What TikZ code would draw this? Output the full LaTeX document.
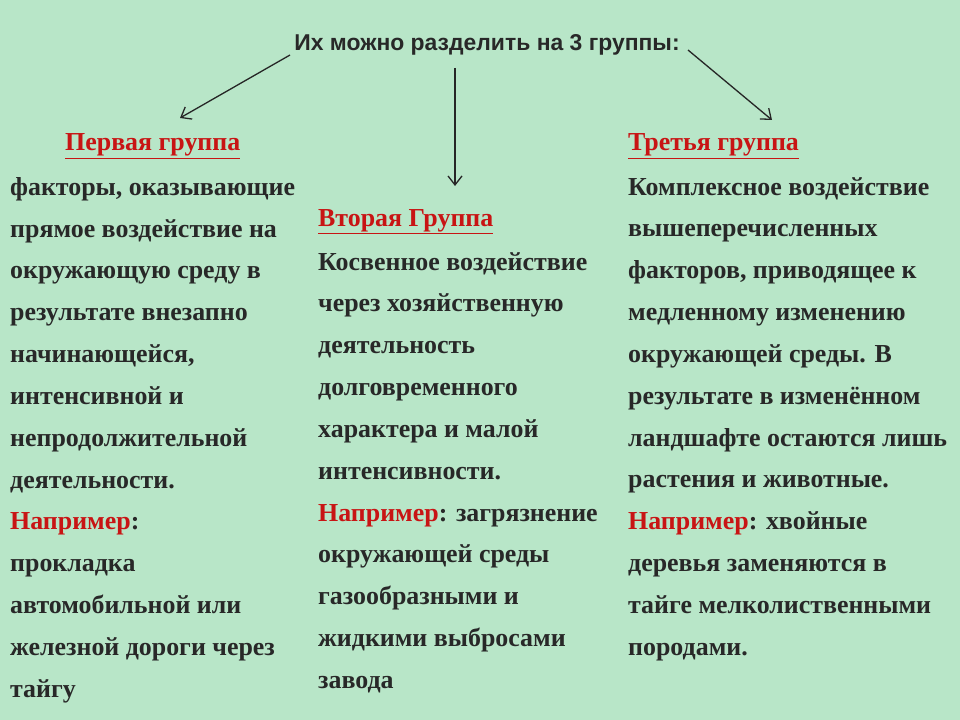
\documentclass[tikz,border=0pt]{standalone}
\usepackage{fontspec}
\usetikzlibrary{arrows.meta}
\setmainfont{Liberation Serif}
\setsansfont{Liberation Sans}
\definecolor{bgreen}{RGB}{184,230,200}
\definecolor{hred}{RGB}{200,20,20}
\definecolor{tgray}{RGB}{40,40,40}
\newcommand{\redw}[1]{\textcolor{hred}{#1}}
\begin{document}
\begin{tikzpicture}[x=1bp,y=-1bp,>={Straight Barb[length=9bp,width=14bp]},
  head/.style={anchor=base west,inner sep=0pt,text=hred,font=\fontsize{26}{42}\selectfont\bfseries},
  body/.style={anchor=north west,inner sep=0pt,align=left,text=tgray,font=\fontsize{26}{42}\selectfont\bfseries},
  arr/.style={->,line width=1.3bp,black!85}]
%%
\fill[bgreen] (0,0) rectangle (960,720);
\useasboundingbox (0,0) rectangle (960,720);
\node (title) at (487,45) [font=\sffamily\bfseries\fontsize{23}{26}\selectfont,text=tgray] {Их можно разделить на 3 группы:};
%
\node (head_1) at (65,151) [head] {\underline{Первая группа}};
\node (body_1) at (10,177) [body] {факторы, оказывающие\\прямое воздействие на\\окружающую среду в\\результате внезапно\\начинающейся,\\интенсивной и\\непродолжительной\\деятельности.\\\redw{Например}:\\прокладка\\автомобильной или\\железной дороги через\\тайгу};
\node (head_2) at (318,226) [head] {\underline{Вторая Группа}};
\node (body_2) at (318,252) [body] {Косвенное воздействие\\через хозяйственную\\деятельность\\долговременного\\характера и малой\\интенсивности.\\\redw{Например}: загрязнение\\окружающей среды\\газообразными и\\жидкими выбросами\\завода};
\node (head_3) at (628,151) [head] {\underline{Третья группа}};
\node (body_3) at (628,177) [body] {Комплексное воздействие\\вышеперечисленных\\факторов, приводящее к\\медленному изменению\\окружающей среды. В\\результате в изменённом\\ландшафте остаются лишь\\растения и животные.\\\redw{Например}: хвойные\\деревья заменяются в\\тайге мелколиственными\\породами.};
%
\coordinate (from_1) at (290,55);
\coordinate (to_1) at (180,118);
\coordinate (from_2) at (455,68);
\coordinate (to_2) at (455,186);
\coordinate (from_3) at (688,50);
\coordinate (to_3) at (772,120);
\draw [arr] (from_1) -- (to_1);
\draw [arr] (from_2) -- (to_2);
\draw [arr] (from_3) -- (to_3);
%
\end{tikzpicture}
\end{document}
